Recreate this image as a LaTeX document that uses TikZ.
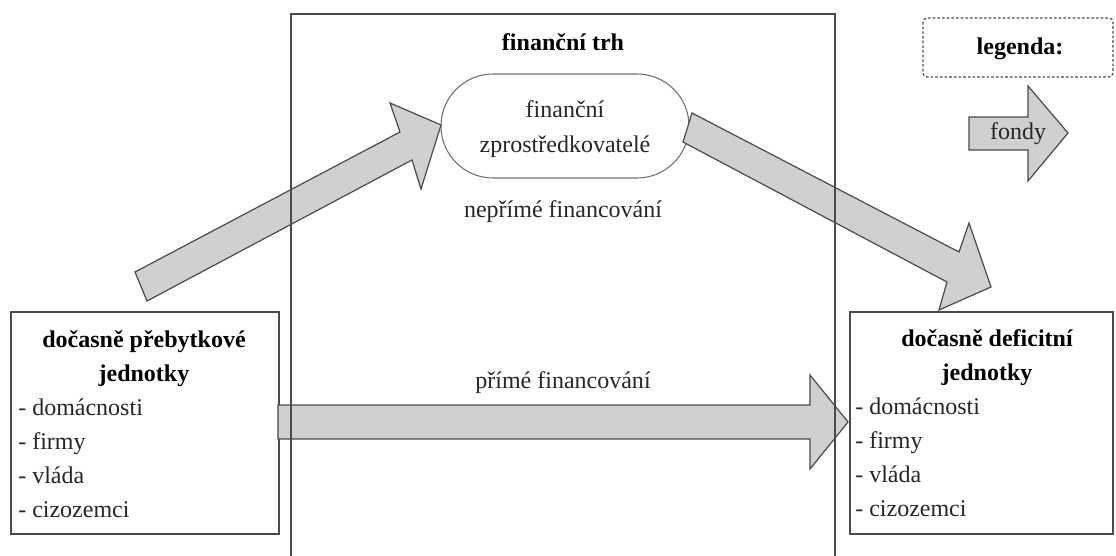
\documentclass[tikz,border=0pt]{standalone}
\usepackage{fontspec}
\setmainfont{Liberation Serif}
\definecolor{arrowgray}{HTML}{D0D0D0}
\definecolor{linegray}{HTML}{4A4A4A}
\definecolor{textgray}{HTML}{262626}
\begin{document}
\begin{tikzpicture}[x=0.75pt,y=-0.75pt,
  frame/.style={draw=linegray, line width=1.2pt},
  unitbox/.style={draw=linegray, line width=1.4pt, fill=white, anchor=north west, inner sep=0pt},
  flow/.style={draw=linegray, fill=arrowgray, line width=0.9pt, line join=miter},
  txt/.style={anchor=base, inner sep=0pt, font=\fontsize{18}{21}\selectfont, text=textgray},
  ltxt/.style={txt, anchor=base west},
  btxt/.style={txt, font=\fontsize{18}{21}\selectfont\bfseries, text=black}]
\useasboundingbox (0,0) rectangle (1116,556);

% unit boxes
\node[unitbox, minimum width=201pt, minimum height=166.5pt] (surplus) at (10,311) {};
\node[unitbox, minimum width=197.25pt, minimum height=166.5pt] (deficit) at (849,311) {};

% pill
\node[draw=linegray!80, line width=0.8pt, rounded corners=39pt, minimum width=186pt, minimum height=78pt, inner sep=0pt] (fz) at (565,126) {};

% flows
\draw[flow] (135,272) -- (400,132) -- (390,103) -- (441,125) -- (421,189) -- (412,160) -- (147,301) -- cycle;
\draw[flow] (692,113) -- (959,252) -- (969,223) -- (991,287) -- (939,310) -- (947,282) -- (683,142) -- cycle;
\draw[flow] (278,405) -- (810,405) -- (810,375) -- (848,422) -- (810,469) -- (810,439) -- (278,439) -- cycle;
\draw[flow] (969,117) -- (1028,117) -- (1028,86) -- (1068,133) -- (1028,181) -- (1028,150) -- (969,150) -- cycle;

% market frame
\draw[frame] (291,600) -- (291,14) -- (835,14) -- (835,600);

% legend box
\draw[draw=linegray, line width=0.9pt, dash pattern=on 2pt off 1.5pt, rounded corners=3pt] (923,18) rectangle (1113,77);

% texts
\node[btxt] (trh) at (563,51) {finanční trh};
\node[txt] (fz1) at (565,118) {finanční};
\node[txt] (fz2) at (565,152) {zprostředkovatelé};
\node[txt] (neprime) at (563,217) {nepřímé financování};
\node[txt] (prime) at (563,388) {přímé financování};
\node[btxt] (leg) at (1020,55) {legenda:};
\node[txt] (fondy) at (1018,140) {fondy};

\node[btxt] (s1) at (144,347) {dočasně přebytkové};
\node[btxt] (s2) at (144,381) {jednotky};
\node[ltxt] (s3) at (18,415) {- domácnosti};
\node[ltxt] (s4) at (18,449) {- firmy};
\node[ltxt] (s5) at (18,483) {- vláda};
\node[ltxt] (s6) at (18,517) {- cizozemci};

\node[btxt] (d1) at (987,346) {dočasně deficitní};
\node[btxt] (d2) at (987,380) {jednotky};
\node[ltxt] (d3) at (855,414) {- domácnosti};
\node[ltxt] (d4) at (855,448) {- firmy};
\node[ltxt] (d5) at (855,482) {- vláda};
\node[ltxt] (d6) at (855,516) {- cizozemci};
\end{tikzpicture}
\end{document}
